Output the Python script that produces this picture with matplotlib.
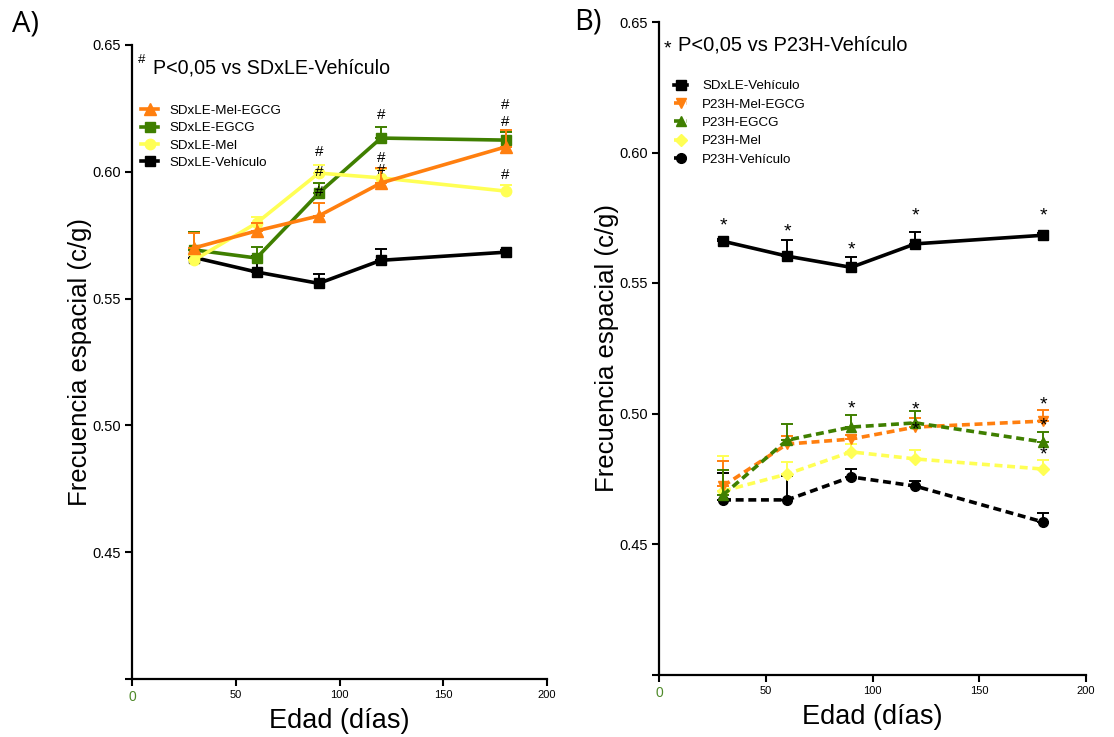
import matplotlib
matplotlib.use("Agg")
import matplotlib.pyplot as plt
from matplotlib.lines import Line2D
import numpy as np

plt.rcParams['font.family'] = ['Liberation Sans', 'DejaVu Sans']

# ---------------- data ----------------
edad = [30, 60, 90, 120, 180]

# Panel A
a_labels = ["SDxLE-Mel-EGCG", "SDxLE-EGCG", "SDxLE-Mel", "SDxLE-Vehículo"]
a_melegcg = [0.5700, 0.5767, 0.5826, 0.5956, 0.6098]
a_melegcg_err = [0.0058, 0.0031, 0.0050, 0.0060, 0.0067]
a_egcg = [0.5692, 0.5660, 0.5916, 0.6133, 0.6125]
a_egcg_err = [0.0070, 0.0043, 0.0040, 0.0043, 0.0030]
a_mel = [0.5652, 0.5798, 0.5995, 0.5976, 0.5924]
a_mel_err = [0.0020, 0.0024, 0.0030, 0.0035, 0.0024]
a_veh = [0.5662, 0.5605, 0.5560, 0.5651, 0.5683]
a_veh_err = [0.0010, 0.0062, 0.0036, 0.0046, 0.0010]

# '#' marks in panel A: (edad, y)
a_hash = [(90, 0.6078), (90, 0.5999), (90, 0.5920),
          (120, 0.6224), (120, 0.6054), (120, 0.6007),
          (180, 0.6263), (180, 0.6196), (180, 0.5987)]

# Panel B
b_labels = ["SDxLE-Vehículo", "P23H-Mel-EGCG", "P23H-EGCG", "P23H-Mel", "P23H-Vehículo"]
b_sdxle = [0.5660, 0.5603, 0.5560, 0.5650, 0.5683]
b_sdxle_err = [0.0010, 0.0062, 0.0038, 0.0046, 0.0010]
b_melegcg = [0.4722, 0.4883, 0.4902, 0.4948, 0.4971]
b_melegcg_err = [0.0096, 0.0031, 0.0015, 0.0035, 0.0042]
b_egcg = [0.4688, 0.4898, 0.4948, 0.4964, 0.4891]
b_egcg_err = [0.0096, 0.0061, 0.0046, 0.0046, 0.0038]
b_mel = [0.4703, 0.4768, 0.4853, 0.4826, 0.4787]
b_mel_err = [0.0134, 0.0046, 0.0030, 0.0034, 0.0035]
b_veh = [0.4669, 0.4669, 0.4757, 0.4722, 0.4584]
b_veh_err = [0.0103, 0.0090, 0.0031, 0.0019, 0.0034]

# '*' marks in panel B: (edad, y)
b_star = [(30, 0.5730), (60, 0.5707), (90, 0.5638), (120, 0.5768), (180, 0.5768),
          (90, 0.5029), (120, 0.5025), (120, 0.4948),
          (180, 0.5044), (180, 0.4964), (180, 0.4853)]

x_ticks = [0, 50, 100, 150, 200]
x_ticklabels = ["0", "50", "100", "150", "200"]
y_ticks = [0.40, 0.45, 0.50, 0.55, 0.60, 0.65]
y_ticklabels = ["", "0.45", "0.50", "0.55", "0.60", "0.65"]

# ---------------- style ----------------
ORANGE = "#ff7f0f"
GREEN = "#3f7f00"
YELLOW = "#ffff55"
BLACK = "#000000"
ZERO_GREEN = "#4f8a2a"
DASH = (0, (2.2, 1.3))

W, H = 1114, 737
fig = plt.figure(figsize=(W / 100, H / 100), dpi=100)

def px_axes(x0, x1, ytop, ybot):
    return fig.add_axes([x0 / W, (H - ybot) / H, (x1 - x0) / W, (ybot - ytop) / H])

axA = px_axes(132, 547, 45, 679)
axB = px_axes(659, 1086, 22, 674.5)

def style_axes(ax):
    ax.set_xlim(0, 200)
    ax.set_ylim(0.40, 0.65)
    for s in ["top", "right"]:
        ax.spines[s].set_visible(False)
    for s in ["left", "bottom"]:
        ax.spines[s].set_linewidth(1.6)
    ax.set_xticks(x_ticks)
    ax.set_xticklabels(x_ticklabels, fontsize=8)
    ax.set_yticks(y_ticks)
    ax.set_yticklabels(y_ticklabels, fontsize=10.5)
    ax.tick_params(axis="both", direction="out", length=5, width=1.5, pad=3)
    lab0 = ax.get_xticklabels()[0]
    lab0.set_color(ZERO_GREEN)
    lab0.set_fontsize(10)
    ax.set_xlabel("Edad (días)", fontsize=19.5, labelpad=3)
    ax.set_ylabel("Frecuencia espacial (c/g)", fontsize=18.5, labelpad=0)

def series(ax, y, err, color, marker, ms, ls="-", z=2):
    ax.errorbar(edad, y, yerr=[np.zeros(len(err)), err], color=color, marker=marker,
                markersize=ms, linewidth=2.6, linestyle=ls, elinewidth=1.4,
                capsize=4, capthick=1.4, zorder=z)

def handle(color, marker, ms, ls="-"):
    return Line2D([], [], color=color, marker=marker, markersize=ms, linewidth=2.6,
                  linestyle=ls)

# ---------------- Panel A ----------------
style_axes(axA)
series(axA, a_veh, a_veh_err, BLACK, "s", 7.5, z=2)
series(axA, a_egcg, a_egcg_err, GREEN, "s", 7.5, z=3)
series(axA, a_mel, a_mel_err, YELLOW, "o", 7.5, z=4)
series(axA, a_melegcg, a_melegcg_err, ORANGE, "^", 8, z=5)

for xh, yh in a_hash:
    axA.text(xh, yh, "#", fontsize=11, ha="center", va="center", zorder=10)

axA.text(0.0145, 0.976, "#", transform=axA.transAxes, fontsize=9.5, ha="left", va="center")
axA.text(0.050, 0.963, "P<0,05 vs SDxLE-Vehículo", transform=axA.transAxes,
         fontsize=14.1, ha="left", va="center")

handlesA = [handle(ORANGE, "^", 8), handle(GREEN, "s", 7.5),
            handle(YELLOW, "o", 7.5), handle(BLACK, "s", 7.5)]
axA.legend(handlesA, a_labels, loc="upper left",
           bbox_to_anchor=(0.022, 0.906), borderaxespad=0, borderpad=0, frameon=False,
           fontsize=9.6, handlelength=1.3, handletextpad=0.8, labelspacing=0.38)

# ---------------- Panel B ----------------
style_axes(axB)
series(axB, b_sdxle, b_sdxle_err, BLACK, "s", 7.5, z=2)
series(axB, b_veh, b_veh_err, BLACK, "o", 7, ls=DASH, z=3)
series(axB, b_mel, b_mel_err, YELLOW, "D", 6.5, ls=DASH, z=4)
series(axB, b_melegcg, b_melegcg_err, ORANGE, "v", 7.5, ls=DASH, z=5)
series(axB, b_egcg, b_egcg_err, GREEN, "^", 7.5, ls=DASH, z=6)

for xs, ys in b_star:
    axB.text(xs, ys - 0.0012, "*", fontsize=14, ha="center", va="center", zorder=10)

axB.text(0.012, 0.958, "*", transform=axB.transAxes, fontsize=14, ha="left", va="center")
axB.text(0.044, 0.965, "P<0,05 vs P23H-Vehículo", transform=axB.transAxes,
         fontsize=14.5, ha="left", va="center")

handlesB = [handle(BLACK, "s", 7.5), handle(ORANGE, "v", 7.5, DASH),
            handle(GREEN, "^", 7.5, DASH), handle(YELLOW, "D", 6.5, DASH),
            handle(BLACK, "o", 7, DASH)]
axB.legend(handlesB, b_labels, loc="upper left",
           bbox_to_anchor=(0.035, 0.911), borderaxespad=0, borderpad=0, frameon=False,
           fontsize=9.6, handlelength=1.0, handletextpad=1.1, labelspacing=0.45)

# Panel letters
fig.text(25 / W, 1 - 24 / H, "A)", fontsize=21, ha="center", va="center",
         family=["Open Sans", "DejaVu Sans"])
fig.text(588 / W, 1 - 22 / H, "B)", fontsize=21, ha="center", va="center",
         family=["Open Sans", "DejaVu Sans"])

fig.savefig("out.png", dpi=100, facecolor="white")
